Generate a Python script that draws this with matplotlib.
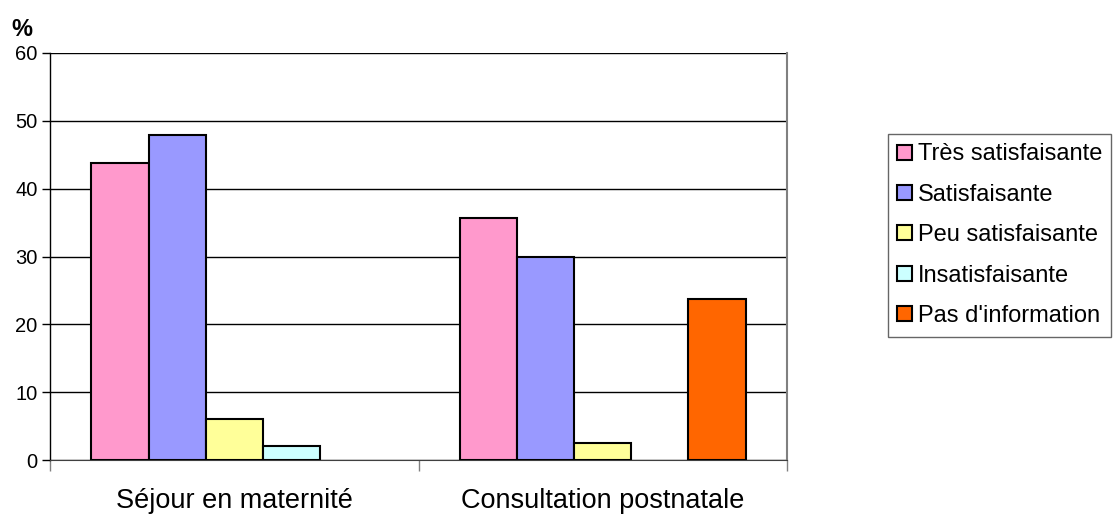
import numpy as np
import matplotlib.pyplot as plt

plt.rcParams['font.family'] = ['Liberation Sans', 'DejaVu Sans']

categories = ['Séjour en maternité', 'Consultation postnatale']
series = ['Très satisfaisante', 'Satisfaisante', 'Peu satisfaisante',
          'Insatisfaisante', "Pas d'information"]
# values per series, one per category (nan = no bar)
tres_satisf = [43.8, 35.7]
satisf = [47.9, 29.9]
peu_satisf = [6.1, 2.5]
insatisf = [2.0, np.nan]
pas_info = [np.nan, 23.8]
values = [tres_satisf, satisf, peu_satisf, insatisf, pas_info]
colors = ['#FF99CC', '#9999FF', '#FFFF99', '#CCFFFF', '#FF6600']

fig = plt.figure(figsize=(11.19, 5.17), dpi=100)
ax = fig.add_axes([50 / 1119, 57 / 517, 737 / 1119, 407 / 517])

x = np.arange(len(categories))
w = 0.155
for i, (vals, c, lab) in enumerate(zip(values, colors, series)):
    ax.bar(x + (i - 2) * w, vals, w, color=c, edgecolor='black',
           linewidth=1.5, label=lab, zorder=3)

ax.set_xlim(-0.5, 1.5)
ax.set_ylim(0, 60)
ax.set_yticks(range(0, 61, 10))
ax.tick_params(axis='y', labelsize=14.5, length=6, width=1, pad=3)
ax.yaxis.grid(True, color='black', linewidth=1, zorder=0)

# category ticks at the group boundaries, labels centred under groups
ax.set_xticks([-0.5, 0.5, 1.5])
ax.set_xticklabels(['', '', ''])
ax.tick_params(axis='x', length=8, width=1, color='#808080')
for xi, cat in zip(x, categories):
    ax.text(xi, -0.07, cat, transform=ax.get_xaxis_transform(),
            ha='center', va='top', fontsize=19.5)

ax.spines['top'].set_visible(False)
ax.spines['right'].set_color('#808080')
ax.spines['right'].set_linewidth(1.5)
ax.spines['bottom'].set_color('#404040')
ax.spines['left'].set_linewidth(1)

fig.text(22 / 1119, 1 - 29 / 517, '%', fontsize=17, fontweight='bold',
         ha='center', va='center')

leg = ax.legend(loc='upper left', bbox_to_anchor=(888 / 1119, 1 - 134 / 517),
                bbox_transform=fig.transFigure, fontsize=17, frameon=True,
                fancybox=False, edgecolor='#404040', handlelength=0.6,
                handleheight=0.6, handletextpad=0.25, labelspacing=0.78,
                borderpad=0.4, borderaxespad=0)
leg.get_frame().set_linewidth(1)

fig.savefig('out.png', dpi=100)
